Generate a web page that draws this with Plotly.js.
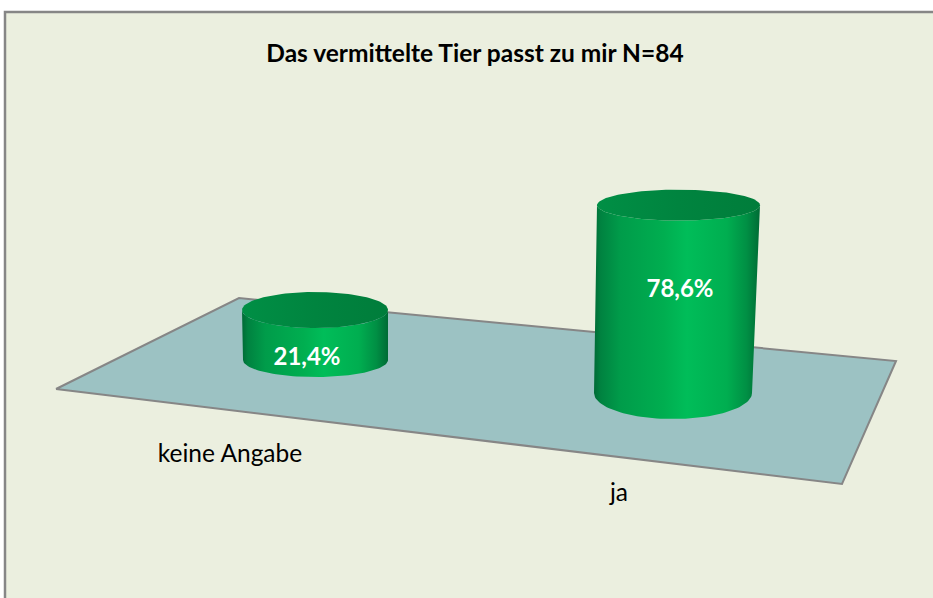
<!DOCTYPE html>
<html>
<head>
<meta charset="utf-8">
<script src="https://cdn.plot.ly/plotly-3.0.1.min.js"></script>
<style>html,body{margin:0;padding:0;background:#fff}#chart{width:933px;height:598px}</style>
</head>
<body>
<div id="chart"></div>
<script>
const chartTitle = 'Das vermittelte Tier passt zu mir N=84';
const categories = ['keine Angabe', 'ja'];
const values = [21.4, 78.6];
const valueLabels = ['21,4%', '78,6%'];

// Perspective geometry of the fake-3D scene, in axis units (the axes span the page).
const slots = [
  {cx: 315.5, cxTop: 315, baseY: 360, rx: 72.5, ryBase: 17, rxTop: 73, ryTop: 18, unit: 2.336, labelX: 307, labelY: 359, catX: 230, catY: 456},
  {cx: 673, cxTop: 678.5, baseY: 393, rx: 79, ryBase: 26, rxTop: 81.5, ryTop: 15.5, unit: 2.39, labelX: 680, labelY: 291, catX: 619, catY: 495}
];
const floorX = [56, 239, 896, 842, 56];
const floorY = [389, 298, 361, 484, 389];

const bodyScale = [
  [0, '#006a36'], [0.04, '#008240'], [0.16, '#009c4a'], [0.42, '#00ae50'], [0.56, '#00bd59'],
  [0.8, '#00ae50'], [0.92, '#008f44'], [1, '#006b35']
];
const capScale = [[0, '#008f45'], [0.5, '#00843f'], [1, '#007d3b']];

function arc(cx, cy, rx, ry, from, to, n) {
  const xs = [], ys = [];
  for (let i = 0; i <= n; i++) {
    const t = from + (to - from) * i / n;
    xs.push(cx + rx * Math.cos(t));
    ys.push(cy + ry * Math.sin(t));
  }
  return [xs, ys];
}

const traces = [{
  type: 'scatter', mode: 'lines', x: floorX, y: floorY, fill: 'toself', fillcolor: '#9cc2c3',
  line: {color: '#868686', width: 2}, hoverinfo: 'skip', showlegend: false
}];

values.forEach((v, i) => {
  const s = slots[i];
  const topY = s.baseY - v * s.unit;
  // body: bottom front arc from left to right, then the top front arc back again
  const b = arc(s.cx, s.baseY, s.rx, s.ryBase, Math.PI, 0, 60);
  const t = arc(s.cxTop, topY, s.rxTop, s.ryTop, 0, Math.PI, 60);
  traces.push({
    type: 'scatter', mode: 'lines', name: categories[i],
    x: b[0].concat(t[0], [b[0][0]]), y: b[1].map((y, k) => s.baseY + s.ryBase * Math.abs(Math.sin(Math.PI - Math.PI * k / 60))).concat(t[1], [s.baseY]),
    fill: 'toself', line: {width: 0, color: 'rgba(0,0,0,0)'},
    fillgradient: {type: 'horizontal', colorscale: bodyScale},
    hoverinfo: 'skip', showlegend: false
  });
  const c = arc(s.cxTop, topY, s.rxTop, s.ryTop, 0, 2 * Math.PI, 120);
  traces.push({
    type: 'scatter', mode: 'lines', x: c[0], y: c[1], fill: 'toself',
    line: {width: 0, color: 'rgba(0,0,0,0)'},
    fillgradient: {type: 'horizontal', colorscale: capScale},
    hoverinfo: 'skip', showlegend: false
  });
});

traces.push({
  type: 'scatter', mode: 'text', x: slots.map(s => s.labelX), y: slots.map(s => s.labelY),
  text: valueLabels, textposition: 'middle center',
  textfont: {family: 'Lato, Carlito, sans-serif', size: 24, color: '#ffffff', weight: 700},
  hoverinfo: 'skip', showlegend: false
});
traces.push({
  type: 'scatter', mode: 'text', x: slots.map(s => s.catX), y: slots.map(s => s.catY),
  text: categories, textposition: 'middle center',
  textfont: {family: 'Lato, Carlito, sans-serif', size: 24.5, color: '#000000'},
  hoverinfo: 'skip', showlegend: false
});

const layout = {
  width: 933, height: 598,
  margin: {l: 0, r: 0, t: 0, b: 0, pad: 0},
  paper_bgcolor: '#ffffff', plot_bgcolor: '#ffffff',
  showlegend: false,
  title: {
    text: '<b>' + chartTitle + '</b>',
    font: {family: 'Lato, Carlito, sans-serif', size: 24.5, color: '#000000'},
    x: 475 / 933, xanchor: 'center', y: 1 - 53 / 598, yanchor: 'middle'
  },
  xaxis: {visible: false, range: [0, 933], fixedrange: true},
  yaxis: {visible: false, range: [598, 0], fixedrange: true},
  shapes: [{
    type: 'rect', layer: 'below', xref: 'x', yref: 'y', x0: 5, y0: 12, x1: 960, y1: 640,
    fillcolor: '#ebefdf', line: {color: '#868686', width: 2.5}
  }]
};

Plotly.newPlot('chart', traces, layout, {displayModeBar: false, responsive: false});
</script>
</body>
</html>
